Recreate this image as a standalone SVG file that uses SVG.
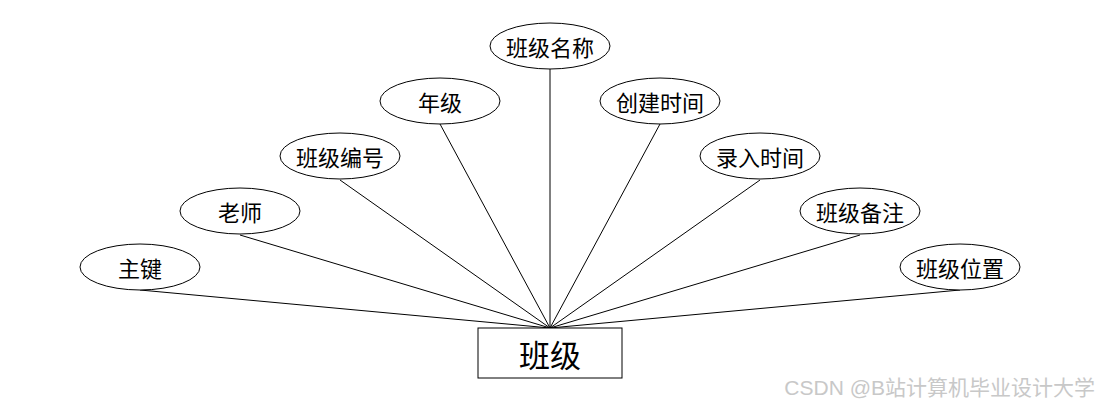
<svg xmlns="http://www.w3.org/2000/svg" width="1100" height="408" viewBox="0 0 1100 408">
<style>
.e{fill:#fff;stroke:#000;stroke-width:1}
.t{font-family:"Noto Sans CJK SC","Liberation Sans",sans-serif;font-size:22px;text-anchor:middle;dominant-baseline:central;fill:#000}
.c line{stroke:#000;stroke-width:1}
</style>
<rect width="1100" height="408" fill="#fff"/>
<g class="c" id="connectors">
<line x1="140" y1="290" x2="550" y2="328"/>
<line x1="240" y1="235" x2="550" y2="328"/>
<line x1="340" y1="180" x2="550" y2="328"/>
<line x1="440" y1="124" x2="550" y2="328"/>
<line x1="550" y1="69" x2="550" y2="328"/>
<line x1="660" y1="124" x2="550" y2="328"/>
<line x1="760" y1="180" x2="550" y2="328"/>
<line x1="860" y1="235" x2="550" y2="328"/>
<line x1="960" y1="290" x2="550" y2="328"/>
</g>
<g id="entity"><rect x="478" y="328" width="144" height="50" fill="#fff" stroke="#000"/><text x="550" y="353" class="t" style="font-size:31px">班级</text></g>
<g id="a1"><ellipse class="e" cx="140" cy="267" rx="60" ry="23"/><text class="t" x="140" y="267">主键</text></g>
<g id="a2"><ellipse class="e" cx="240" cy="211" rx="60" ry="23"/><text class="t" x="240" y="211">老师</text></g>
<g id="a3"><ellipse class="e" cx="340" cy="156" rx="60" ry="23"/><text class="t" x="340" y="156">班级编号</text></g>
<g id="a4"><ellipse class="e" cx="440" cy="101" rx="60" ry="23"/><text class="t" x="440" y="101">年级</text></g>
<g id="a5"><ellipse class="e" cx="550" cy="46" rx="60" ry="23"/><text class="t" x="550" y="46">班级名称</text></g>
<g id="a6"><ellipse class="e" cx="660" cy="101" rx="60" ry="23"/><text class="t" x="660" y="101">创建时间</text></g>
<g id="a7"><ellipse class="e" cx="760" cy="156" rx="60" ry="23"/><text class="t" x="760" y="156">录入时间</text></g>
<g id="a8"><ellipse class="e" cx="860" cy="211" rx="60" ry="23"/><text class="t" x="860" y="211">班级备注</text></g>
<g id="a9"><ellipse class="e" cx="960" cy="267" rx="60" ry="23"/><text class="t" x="960" y="267">班级位置</text></g>
<text x="1095" y="387" font-family="'Liberation Sans','Noto Sans CJK SC',sans-serif" font-size="21" fill="#c8c8c8" text-anchor="end" dominant-baseline="central">CSDN @B站计算机毕业设计大学</text>
</svg>
